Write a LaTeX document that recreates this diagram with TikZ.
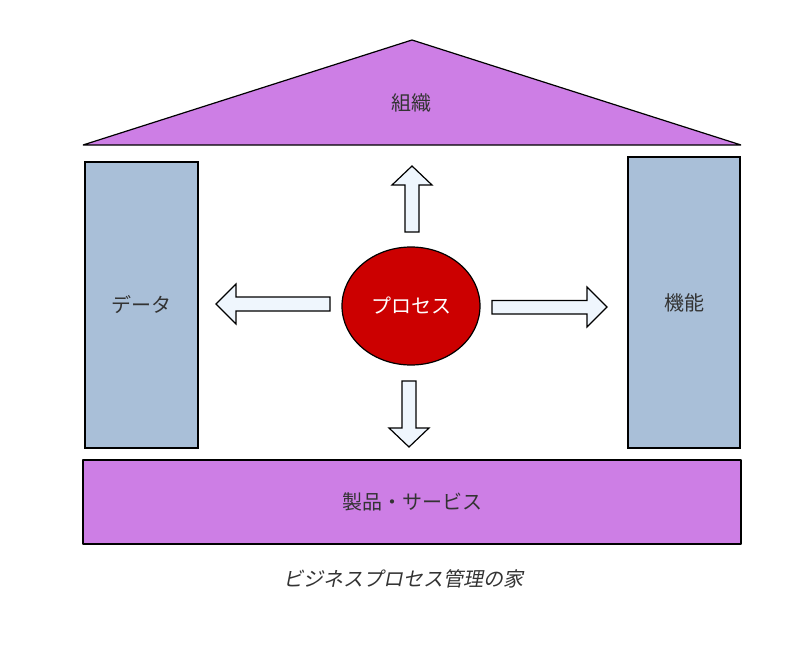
\documentclass[tikz,border=0pt]{standalone}
\usepackage{fontspec}
\newfontfamily\cjk{Noto Sans CJK JP}
\newfontfamily\cjkslant[FakeSlant=0.2]{Noto Sans CJK JP}
\usetikzlibrary{positioning, shapes.geometric}
\definecolor{roofviolet}{HTML}{CD7EE5}
\definecolor{pillarblue}{HTML}{A9BFD8}
\definecolor{procred}{HTML}{CC0000}
\definecolor{arrowfill}{HTML}{EFF6FD}
\definecolor{labelgray}{HTML}{333333}

\begin{document}
\begin{tikzpicture}[
    x=1pt, y=-1pt,
    font=\cjk\fontsize{20}{24}\selectfont,
    base_shape/.style={draw=black, line width=1.2pt},
    roof/.style     ={base_shape, fill=roofviolet, line join=bevel},
    pillar/.style   ={base_shape, fill=pillarblue},
    process/.style  ={base_shape, fill=procred, ellipse, minimum width=138pt, minimum height=118pt, text=white},
    fat_arrow/.style={base_shape, fill=arrowfill, line join=miter},
    txt/.style      ={text=labelgray}
]
\useasboundingbox (0,0) rectangle (807,648);

% Roof
\draw[roof] (412,40) -- (741,145) -- (83,145) -- cycle;
\node[txt] (organisation) at (411,103) {組織};

% Pillars
\node[pillar, minimum width=113pt, minimum height=286pt] (data) at (141.5,305) {};
\node[txt] at (data.center) {データ};
\node[pillar, minimum width=112pt, minimum height=291pt] (function) at (684,302.5) {};
\node[txt] at (function.center) {機能};

% Foundation
\node[roof, minimum width=658pt, minimum height=84pt] (product) at (412,502) {};
\node[txt] at (product.center) {製品・サービス};

% Process
\node[process] (proc) at (411,306) {プロセス};

% Block arrows
\draw[fat_arrow] (412,166) -- (432,185) -- (419,185) -- (419,232)
    -- (405,232) -- (405,185) -- (392,185) -- cycle;
\draw[fat_arrow] (409,447) -- (429,428) -- (416,428) -- (416,381)
    -- (402,381) -- (402,428) -- (389,428) -- cycle;
\draw[fat_arrow] (216,304) -- (236,284) -- (236,297) -- (330,297)
    -- (330,311) -- (236,311) -- (236,324) -- cycle;
\draw[fat_arrow] (607,307) -- (587,287) -- (587,300.5) -- (492,300.5)
    -- (492,314) -- (587,314) -- (587,327) -- cycle;

% Caption
\node[txt, font=\cjkslant\fontsize{20}{24}\selectfont] (caption) at (403,579) {ビジネスプロセス管理の家};

\end{tikzpicture}
\end{document}
